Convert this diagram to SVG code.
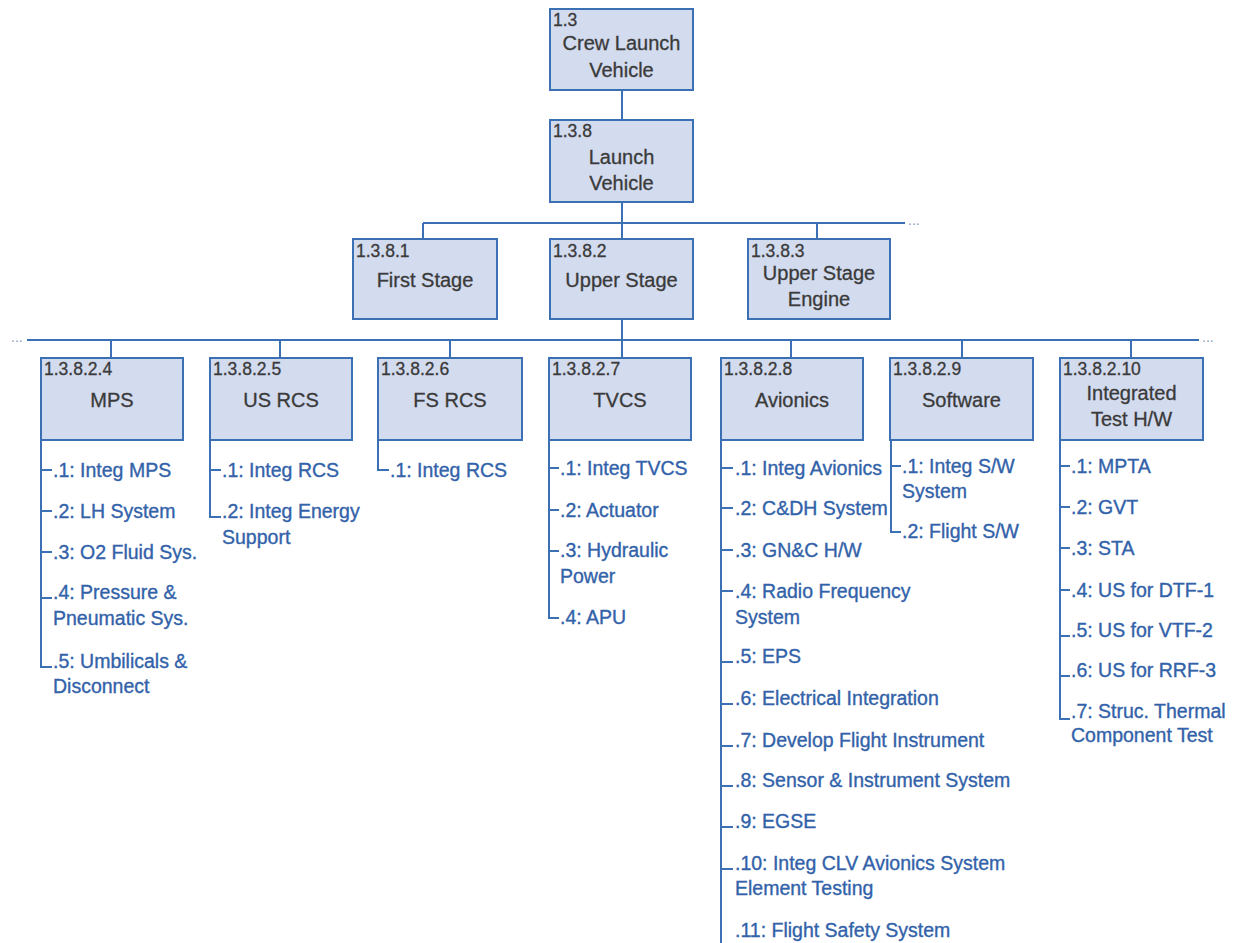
<svg xmlns="http://www.w3.org/2000/svg" width="1238" height="943" viewBox="0 0 1238 943">
<style>
.box{fill:#d3dbee;stroke:#3b71b4;stroke-width:2}
.ln{stroke:#3b71b4;stroke-width:2;fill:none}
.id{font-family:"Liberation Sans",Arial,sans-serif;font-size:17.5px;fill:#3a3a3a;stroke:#3a3a3a;stroke-width:0.3}
.ttl{font-family:"Liberation Sans",Arial,sans-serif;font-size:20px;fill:#3a3a3a;text-anchor:middle;stroke:#3a3a3a;stroke-width:0.3}
.it{font-family:"Liberation Sans",Arial,sans-serif;font-size:19.5px;fill:#3262a9;stroke:#3262a9;stroke-width:0.35}
.dots{font-family:"Liberation Sans",Arial,sans-serif;font-size:14px;fill:#8a9cc0}
</style>
<rect width="1238" height="943" fill="#ffffff"/>
<g id="connectors">
<path class="ln" d="M622 90V120M622 202V223M423 223H905M423 223V239M622 223V239M817 223V239M622 319V340M27 340H1199M111 340V358M280 340V358M450 340V358M622 340V358M791 340V358M962 340V358M1131 340V358"/>
<text class="dots" x="908" y="225">...</text>
<text class="dots" x="11" y="342">...</text>
<text class="dots" x="1202" y="342">...</text>
</g>
<g id="n1_3"><rect class="box" x="550" y="9" width="143" height="81"/><text class="id" x="553" y="26">1.3</text><text class="ttl" x="621.5" y="50">Crew Launch</text><text class="ttl" x="621.5" y="77">Vehicle</text></g>
<g id="n1_3_8"><rect class="box" x="550" y="120" width="143" height="82"/><text class="id" x="553" y="137">1.3.8</text><text class="ttl" x="621.5" y="164">Launch</text><text class="ttl" x="621.5" y="190">Vehicle</text></g>
<g id="n1_3_8_1"><rect class="box" x="353" y="239" width="144" height="80"/><text class="id" x="356" y="257">1.3.8.1</text><text class="ttl" x="425" y="287">First Stage</text></g>
<g id="n1_3_8_2"><rect class="box" x="550" y="239" width="143" height="80"/><text class="id" x="553" y="257">1.3.8.2</text><text class="ttl" x="621.5" y="287">Upper Stage</text></g>
<g id="n1_3_8_3"><rect class="box" x="748" y="239" width="142" height="80"/><text class="id" x="751" y="257">1.3.8.3</text><text class="ttl" x="819" y="280">Upper Stage</text><text class="ttl" x="819" y="306">Engine</text></g>
<g id="n1_3_8_2_4"><rect class="box" x="41" y="358" width="142" height="82"/><text class="id" x="44" y="375">1.3.8.2.4</text><text class="ttl" x="112" y="407">MPS</text></g>
<g id="n1_3_8_2_5"><rect class="box" x="210" y="358" width="142" height="82"/><text class="id" x="213" y="375">1.3.8.2.5</text><text class="ttl" x="281" y="407">US RCS</text></g>
<g id="n1_3_8_2_6"><rect class="box" x="378" y="358" width="144" height="82"/><text class="id" x="381" y="375">1.3.8.2.6</text><text class="ttl" x="450" y="407">FS RCS</text></g>
<g id="n1_3_8_2_7"><rect class="box" x="549" y="358" width="142" height="82"/><text class="id" x="552" y="375">1.3.8.2.7</text><text class="ttl" x="620" y="407">TVCS</text></g>
<g id="n1_3_8_2_8"><rect class="box" x="721" y="358" width="142" height="82"/><text class="id" x="724" y="375">1.3.8.2.8</text><text class="ttl" x="792" y="407">Avionics</text></g>
<g id="n1_3_8_2_9"><rect class="box" x="890" y="358" width="143" height="82"/><text class="id" x="893" y="375">1.3.8.2.9</text><text class="ttl" x="961.5" y="407">Software</text></g>
<g id="n1_3_8_2_10"><rect class="box" x="1060" y="358" width="143" height="82"/><text class="id" x="1063" y="375">1.3.8.2.10</text><text class="ttl" x="1131.5" y="400">Integrated</text><text class="ttl" x="1131.5" y="426">Test H/W</text></g>
<g id="list_mps">
<path class="ln" d="M41 440V667H52M41 470H52M41 511H52M41 552H52M41 598H52"/>
<text class="it" x="53" y="477">.1: Integ MPS</text>
<text class="it" x="53" y="518">.2: LH System</text>
<text class="it" x="53" y="559">.3: O2 Fluid Sys.</text>
<text class="it" x="53" y="599">.4: Pressure &amp;</text>
<text class="it" x="53" y="625">Pneumatic Sys.</text>
<text class="it" x="53" y="668">.5: Umbilicals &amp;</text>
<text class="it" x="53" y="693">Disconnect</text>
</g>
<g id="list_usrcs">
<path class="ln" d="M210 440V517H221M210 470H221"/>
<text class="it" x="222" y="477">.1: Integ RCS</text>
<text class="it" x="222" y="518">.2: Integ Energy</text>
<text class="it" x="222" y="544">Support</text>
</g>
<g id="list_fsrcs">
<path class="ln" d="M378 440V470H389"/>
<text class="it" x="390" y="477">.1: Integ RCS</text>
</g>
<g id="list_tvcs">
<path class="ln" d="M549 440V618H559M549 468H559M549 510H559M549 551H559"/>
<text class="it" x="560" y="475">.1: Integ TVCS</text>
<text class="it" x="560" y="517">.2: Actuator</text>
<text class="it" x="560" y="557">.3: Hydraulic</text>
<text class="it" x="560" y="583">Power</text>
<text class="it" x="560" y="624">.4: APU</text>
</g>
<g id="list_avionics">
<path class="ln" d="M721 440V943M721 468H733M721 508H733M721 550H733M721 591H733M721 662H733M721 704H733M721 746H733M721 786H733M721 827H733M721 869H733"/>
<text class="it" x="735" y="475">.1: Integ Avionics</text>
<text class="it" x="735" y="515">.2: C&amp;DH System</text>
<text class="it" x="735" y="557">.3: GN&amp;C H/W</text>
<text class="it" x="735" y="598">.4: Radio Frequency</text>
<text class="it" x="735" y="624">System</text>
<text class="it" x="735" y="663">.5: EPS</text>
<text class="it" x="735" y="705">.6: Electrical Integration</text>
<text class="it" x="735" y="747">.7: Develop Flight Instrument</text>
<text class="it" x="735" y="787">.8: Sensor &amp; Instrument System</text>
<text class="it" x="735" y="828">.9: EGSE</text>
<text class="it" x="735" y="870">.10: Integ CLV Avionics System</text>
<text class="it" x="735" y="895">Element Testing</text>
<text class="it" x="735" y="937">.11: Flight Safety System</text>
</g>
<g id="list_software">
<path class="ln" d="M891 440V532H901M891 466H901"/>
<text class="it" x="902" y="473">.1: Integ S/W</text>
<text class="it" x="902" y="498">System</text>
<text class="it" x="902" y="538">.2: Flight S/W</text>
</g>
<g id="list_integrated">
<path class="ln" d="M1060 440V719H1070M1060 466H1070M1060 507H1070M1060 548H1070M1060 590H1070M1060 636H1070M1060 676H1070"/>
<text class="it" x="1071" y="473">.1: MPTA</text>
<text class="it" x="1071" y="514">.2: GVT</text>
<text class="it" x="1071" y="555">.3: STA</text>
<text class="it" x="1071" y="597">.4: US for DTF-1</text>
<text class="it" x="1071" y="637">.5: US for VTF-2</text>
<text class="it" x="1071" y="677">.6: US for RRF-3</text>
<text class="it" x="1071" y="718">.7: Struc. Thermal</text>
<text class="it" x="1071" y="742">Component Test</text>
</g>
</svg>
